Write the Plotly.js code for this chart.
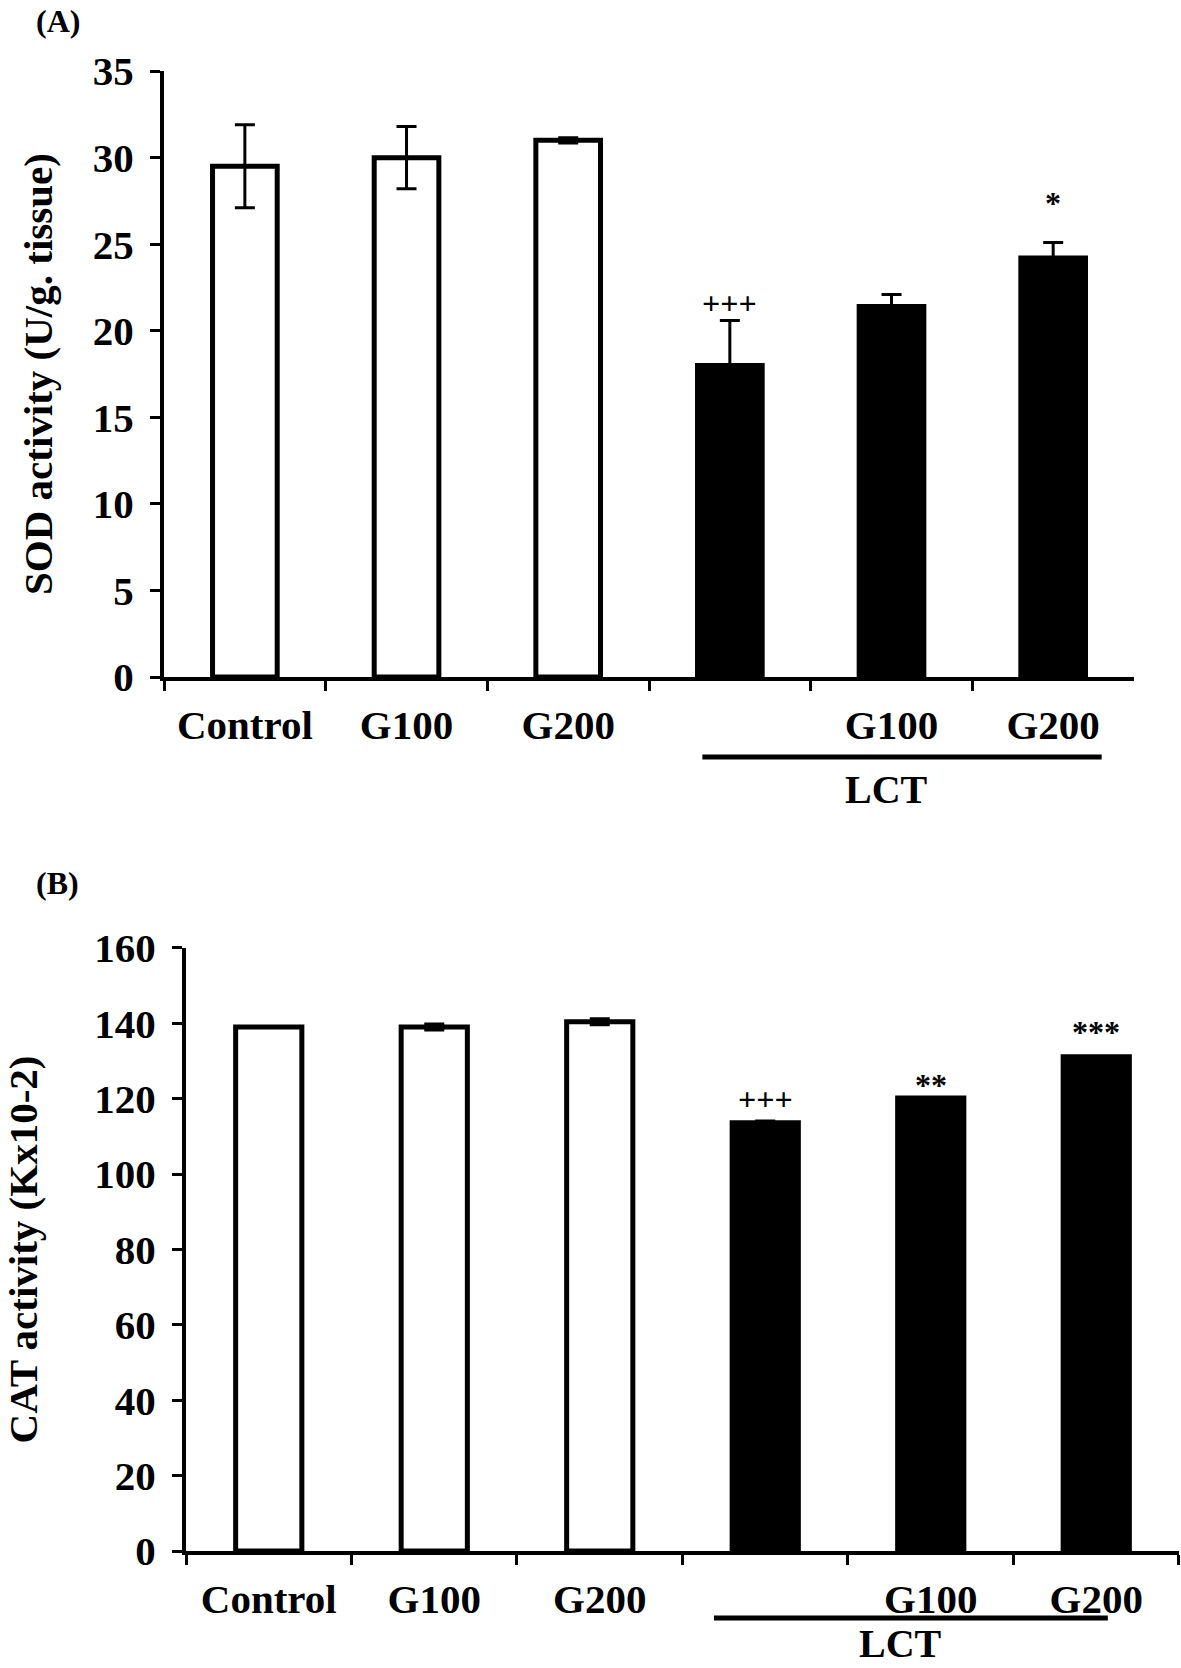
<!DOCTYPE html>
<html>
<head>
<meta charset="utf-8">
<script src="https://cdn.plot.ly/plotly-3.0.1.min.js"></script>
<style>html,body{margin:0;padding:0;background:#fff;}#chart{width:1181px;height:1668px;}</style>
</head>
<body>
<div id="chart"></div>
<script>
// ---- data ----
const groups = ["Control", "G100", "G200", "LCT", "LCT+G100", "LCT+G200"];
const tickLabels = ["Control", "G100", "G200", "", "G100", "G200"];
const sodMean = [29.5, 30.0, 31.0, 18.0, 21.4, 24.2];
const sodErr  = [2.4, 1.8, 0.15, 2.6, 0.7, 0.9];
const sodSig  = ["", "", "", "+++", "", "*"];
const sodSigY = [0, 0, 0, 21.6, 0, 27.4];
const catMean = [139.0, 139.0, 140.4, 113.6, 120.2, 131.1];
const catErr  = [0, 0.8, 0.8, 0.5, 0, 0];
const catSig  = ["", "", "", "+++", "**", "***"];
const catSigY = [0, 0, 0, 119.9, 123.6, 137.7];
const sodTitle = "SOD activity (U/g. tissue)";
const catTitle = "CAT activity (Kx10-2)";
const lctLabel = "LCT";

const FONT = "Liberation Serif, Times New Roman, serif";
const ctrlIdx = [0, 1, 2], lctIdx = [3, 4, 5];
const pick = (arr, idx) => idx.map(i => arr[i]);

function barTraces(mean, err, xa, ya) {
  return [
    {type: "bar", x: pick(groups, ctrlIdx), y: pick(mean, ctrlIdx), xaxis: xa, yaxis: ya, width: 0.40,
     marker: {color: "white", line: {color: "black", width: 5}},
     error_y: {type: "data", array: pick(err, ctrlIdx), visible: true, color: "black", thickness: 3, width: 10}},
    {type: "bar", x: pick(groups, lctIdx), y: pick(mean, lctIdx), xaxis: xa, yaxis: ya, width: 0.40,
     marker: {color: "black", line: {color: "black", width: 5}},
     error_y: {type: "data", array: pick(err, lctIdx), visible: true, color: "black", thickness: 3, width: 10}}
  ];
}

const data = [...barTraces(sodMean, sodErr, "x", "y"), ...barTraces(catMean, catErr, "x2", "y2")];

function xAx(domain, anchor) {
  return {domain: domain, anchor: anchor, type: "category", tickmode: "array", tickvals: groups, ticktext: tickLabels,
    tickson: "boundaries", ticks: "outside", ticklen: 10, tickwidth: 3, tickcolor: "black",
    showline: true, linewidth: 4, linecolor: "black", showgrid: false, zeroline: false,
    ticklabelstandoff: 9, tickfont: {family: FONT, size: 41, color: "black", weight: "bold"}};
}
function yAx(domain, anchor, range, dtick, title, standoff) {
  return {domain: domain, anchor: anchor, range: range, dtick: dtick, tick0: 0, ticks: "outside", ticklen: 10, tickwidth: 3,
    tickcolor: "black", showline: true, linewidth: 4, linecolor: "black", showgrid: false, zeroline: false,
    ticklabelstandoff: 8, tickfont: {family: FONT, size: 41, color: "black", weight: "bold"},
    title: {text: title, standoff: standoff, font: {family: FONT, size: 41, color: "black", weight: "bold"}}};
}

const annotations = [];
groups.forEach((g, i) => {
  if (sodSig[i]) annotations.push({x: g, y: sodSigY[i], xref: "x", yref: "y", text: sodSig[i], showarrow: false,
    font: {family: FONT, size: 32, color: "black", weight: "bold"}});
  if (catSig[i]) annotations.push({x: g, y: catSigY[i], xref: "x2", yref: "y2", text: catSig[i], showarrow: false,
    font: {family: FONT, size: 32, color: "black", weight: "bold"}});
});
annotations.push({x: 0.049, y: 0.9874, xref: "paper", yref: "paper", xanchor: "center", yanchor: "middle", text: "(A)", showarrow: false,
  font: {family: FONT, size: 32, color: "black", weight: "bold"}});
annotations.push({x: 0.049, y: 0.4706, xref: "paper", yref: "paper", xanchor: "center", yanchor: "middle", text: "(B)", showarrow: false,
  font: {family: FONT, size: 32, color: "black", weight: "bold"}});
annotations.push({x: 3.97, y: 0.5265, xref: "x", yref: "paper", yanchor: "middle", text: lctLabel, showarrow: false,
  font: {family: FONT, size: 40, color: "black", weight: "bold"}});
annotations.push({x: 3.82, y: 0.0145, xref: "x2", yref: "paper", yanchor: "middle", text: lctLabel, showarrow: false,
  font: {family: FONT, size: 40, color: "black", weight: "bold"}});

const shapes = [
  {type: "line", xref: "x", yref: "paper", x0: 2.83, x1: 5.30, y0: 0.5462, y1: 0.5462, line: {color: "black", width: 5}},
  {type: "line", xref: "x2", yref: "paper", x0: 2.69, x1: 5.07, y0: 0.0300, y1: 0.0300, line: {color: "black", width: 5}}
];

const layout = {
  width: 1181, height: 1668, margin: {l: 0, r: 0, t: 0, b: 0},
  paper_bgcolor: "white", plot_bgcolor: "white", showlegend: false, barmode: "overlay",
  font: {family: FONT, color: "black"},
  xaxis: xAx([0.1389, 0.9602], "y"),
  yaxis: yAx([0.5941, 0.9574], "x", [0, 35], 5, sodTitle, 28),
  xaxis2: xAx([0.1575, 0.9983], "y2"),
  yaxis2: yAx([0.0701, 0.4317], "x2", [0, 160], 20, catTitle, 56),
  annotations: annotations, shapes: shapes
};

Plotly.newPlot("chart", data, layout, {displayModeBar: false, staticPlot: true});
</script>
</body>
</html>
